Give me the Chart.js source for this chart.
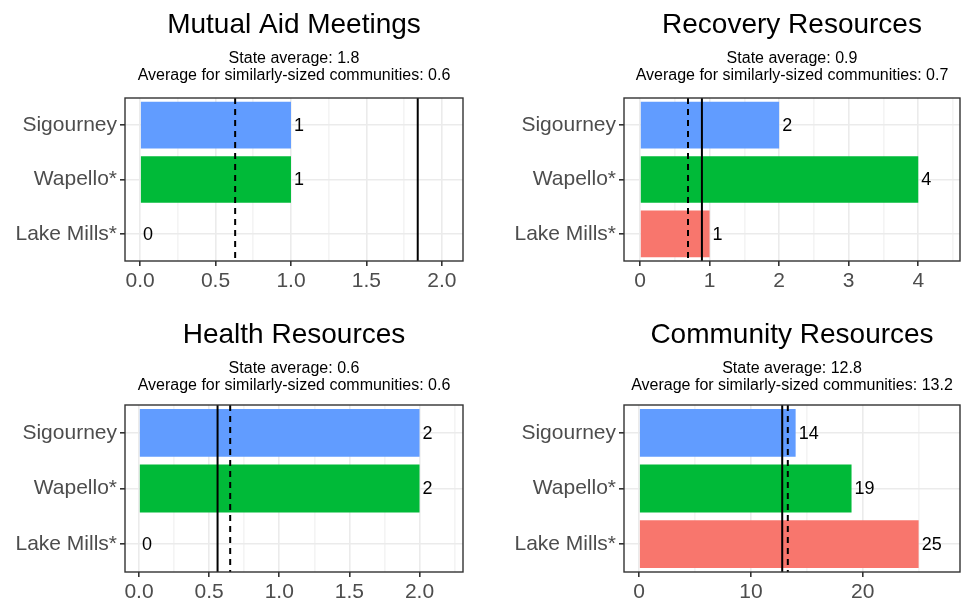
<!DOCTYPE html>
<html>
<head>
<meta charset="utf-8">
<script src="https://cdn.jsdelivr.net/npm/chart.js@4"></script>
<style>
  body { margin: 0; background: #fff; }
  .p { position: absolute; }
</style>
</head>
<body>
<div class="p" style="left:0;top:0;width:480px;height:301px"><canvas id="c1"></canvas></div>
<div class="p" style="left:480px;top:0;width:481px;height:301px"><canvas id="c2"></canvas></div>
<div class="p" style="left:0;top:301px;width:480px;height:301px"><canvas id="c3"></canvas></div>
<div class="p" style="left:480px;top:301px;width:481px;height:301px"><canvas id="c4"></canvas></div>
<script>
var towns = ['Sigourney', 'Wapello*', 'Lake Mills*'];
var barColors = ['#619CFF', '#00BA38', '#F8766D'];

var titles = ['Mutual Aid Meetings', 'Recovery Resources', 'Health Resources', 'Community Resources'];
var mutualAid = [1, 1, 0];
var recovery = [2, 4, 1];
var health = [2, 2, 0];
var community = [14, 19, 25];

var stateAvg = [1.84, 0.89, 0.56, 12.8];
var stateLabel = ['1.8', '0.9', '0.6', '12.8'];
var similarAvg = [0.63, 0.69, 0.65, 13.3];
var similarLabel = ['0.6', '0.7', '0.6', '13.2'];

var ticks1 = [0, 0.5, 1, 1.5, 2];
var ticks2 = [0, 1, 2, 3, 4];
var ticks4 = [0, 10, 20];

var FONT = '"Liberation Sans", Arial, sans-serif';

function makePanel(id, i, vals, xmin, xmax, major, minorStep, cfg) {
  var all = [];
  for (var v = Math.ceil(xmin / minorStep) * minorStep; v <= xmax + 1e-9; v += minorStep) all.push(+v.toFixed(4));
  function isMajor(v) { return major.some(function (m) { return Math.abs(m - v) < 1e-6; }); }
  var tickFmt = function (v) {
    if (!isMajor(v)) return '';
    return major === ticks1 ? v.toFixed(1) : String(v);
  };

  var deco = {
    id: 'deco' + i,
    afterDatasetsDraw: function (chart) {
      var ctx = chart.ctx, a = chart.chartArea, x = chart.scales.x, y = chart.scales.y;
      ctx.save();
      // value labels
      ctx.font = '18px ' + FONT;
      ctx.fillStyle = '#000';
      ctx.textBaseline = 'middle';
      ctx.textAlign = 'left';
      vals.forEach(function (v, k) {
        ctx.fillText(String(v), x.getPixelForValue(v) + 3, y.getPixelForValue(k) + 1);
      });
      // average lines
      ctx.strokeStyle = '#000';
      ctx.lineWidth = 2;
      ctx.beginPath();
      var sx = x.getPixelForValue(stateAvg[i]);
      ctx.moveTo(sx, a.top); ctx.lineTo(sx, a.bottom); ctx.stroke();
      ctx.setLineDash([6, 5]);
      ctx.beginPath();
      var dx = x.getPixelForValue(similarAvg[i]);
      ctx.moveTo(dx, a.top); ctx.lineTo(dx, a.bottom); ctx.stroke();
      ctx.setLineDash([]);
      // panel border
      ctx.strokeStyle = '#333';
      ctx.lineWidth = 1.4;
      ctx.strokeRect(a.left, a.top, a.right - a.left, a.bottom - a.top);
      // titles
      var cx = (a.left + a.right) / 2;
      ctx.textAlign = 'center';
      ctx.font = '28px ' + FONT;
      ctx.fillText(titles[i], cx, cfg.titleY);
      ctx.font = '16px ' + FONT;
      ctx.fillText('State average: ' + stateLabel[i], cx, cfg.titleY + 34);
      ctx.fillText('Average for similarly-sized communities: ' + similarLabel[i], cx, cfg.titleY + 51);
      ctx.restore();
    }
  };

  return new Chart(document.getElementById(id), {
    type: 'bar',
    data: {
      labels: towns,
      datasets: [{ data: vals, backgroundColor: barColors, barPercentage: 0.86, categoryPercentage: 1 }]
    },
    options: {
      indexAxis: 'y',
      responsive: true,
      maintainAspectRatio: false,
      animation: false,
      layout: { padding: { top: cfg.top, right: cfg.right, left: 0, bottom: 0 } },
      plugins: { legend: { display: false }, tooltip: { enabled: false } },
      scales: {
        x: {
          type: 'linear', min: xmin, max: xmax,
          afterBuildTicks: function (s) { s.ticks = all.map(function (v) { return { value: v }; }); },
          afterFit: function (s) { s.height = cfg.xh; },
          border: { display: false },
          grid: {
            color: function (c) { return c.tick && isMajor(c.tick.value) ? '#ebebeb' : '#f4f4f4'; },
            tickColor: function (c) { return c.tick && isMajor(c.tick.value) ? '#333' : 'rgba(0,0,0,0)'; },
            tickLength: 5, lineWidth: 1.6
          },
          ticks: { callback: tickFmt, autoSkip: false, maxRotation: 0, color: '#4d4d4d', font: { family: FONT, size: 21 }, padding: 3 }
        },
        y: {
          afterFit: function (s) { s.width = cfg.yw; },
          border: { display: false },
          grid: { offset: false, color: '#ebebeb', tickColor: '#333', tickLength: 5, lineWidth: 1.6 },
          ticks: { color: '#4d4d4d', font: { family: FONT, size: 21 }, padding: 3 }
        }
      }
    },
    plugins: [deco]
  });
}

makePanel('c1', 0, mutualAid, -0.1, 2.14, ticks1, 0.25, { top: 98, right: 17, xh: 40, yw: 125, titleY: 25 });
makePanel('c2', 1, recovery, -0.23, 4.6, ticks2, 0.5, { top: 98, right: 1, xh: 40, yw: 144, titleY: 25 });
makePanel('c3', 2, health, -0.1, 2.31, ticks1, 0.25, { top: 104, right: 17, xh: 30, yw: 125, titleY: 34 });
makePanel('c4', 3, community, -1.35, 28.7, ticks4, 5, { top: 104, right: 1, xh: 30, yw: 144, titleY: 34 });
</script>
</body>
</html>
